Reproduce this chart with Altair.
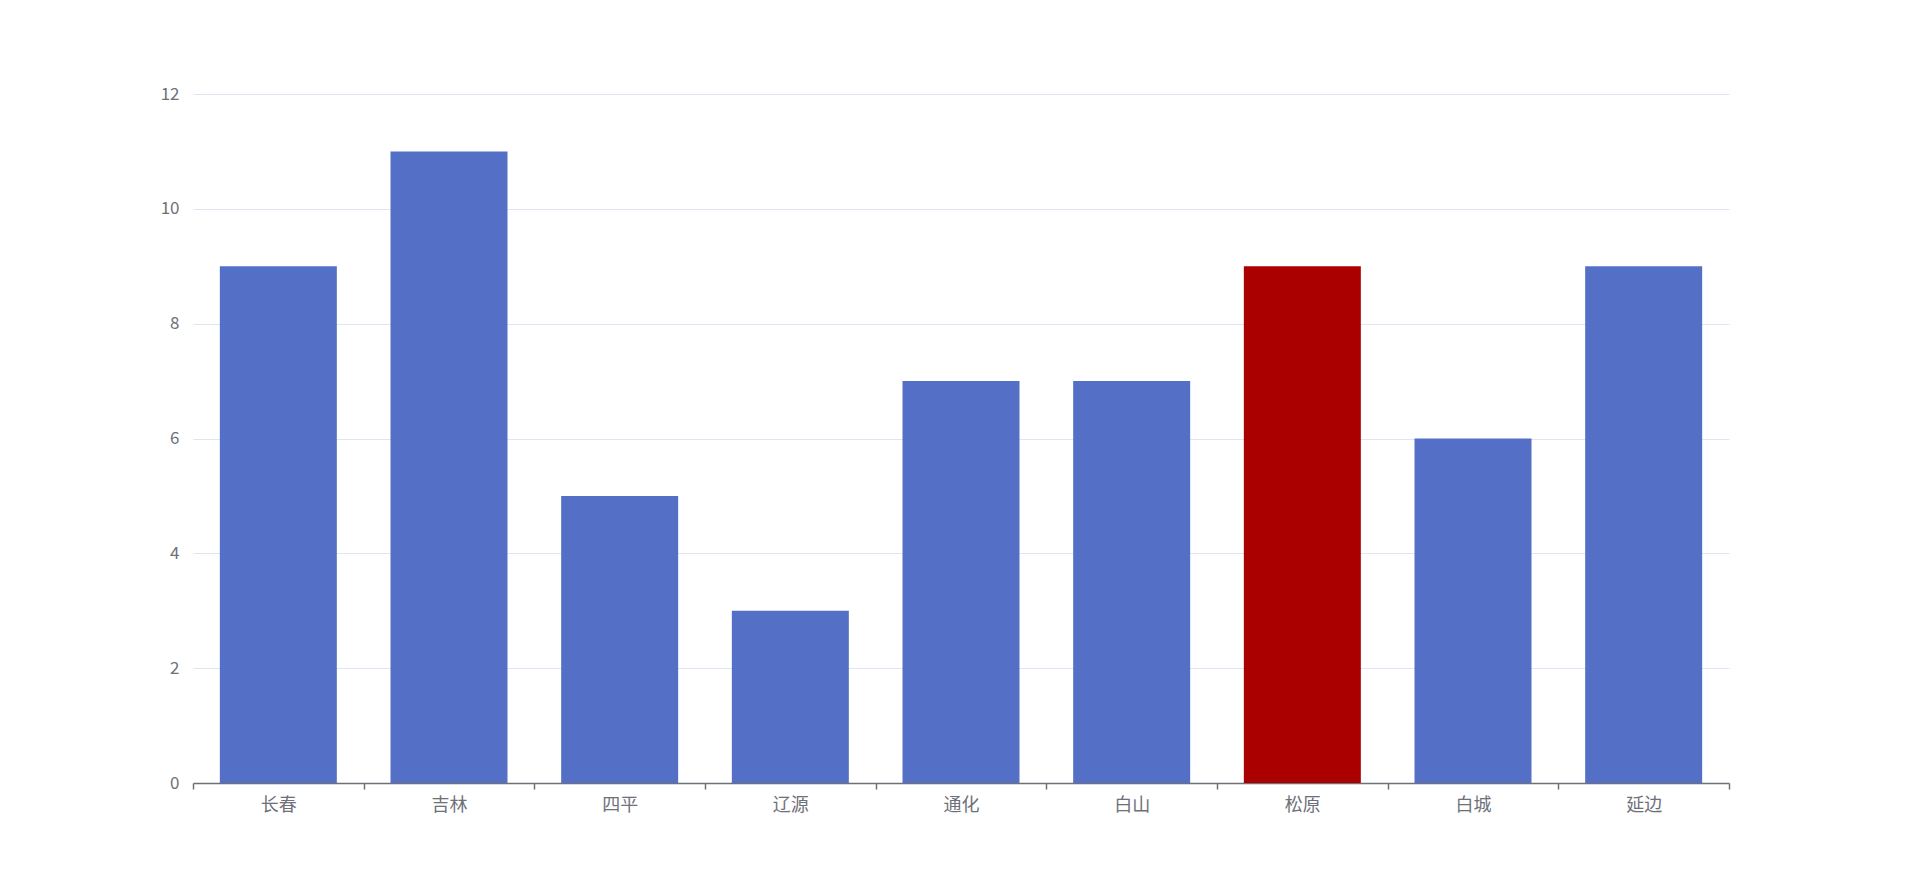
import altair as alt
import pandas as pd

cities = ["长春", "吉林", "四平", "辽源", "通化", "白山", "松原", "白城", "延边"]
values = [9, 11, 5, 3, 7, 7, 9, 6, 9]
highlight = ["松原"]

df = pd.DataFrame({"city": cities, "value": values})
df["hl"] = df["city"].isin(highlight).map({True: "hl", False: "base"})

font = "Noto Sans CJK SC"
bar_frac = 117 / (1536 / 9)

chart = alt.Chart(df).mark_bar(width=alt.RelativeBandSize(bar_frac)).encode(
    x=alt.X("city:N", sort=cities, title=None,
            scale=alt.Scale(paddingInner=0, paddingOuter=0),
            axis=alt.Axis(labelAngle=0, tickBand="extent", tickSize=6, tickWidth=1.5,
                          tickColor="#6E7079", domainColor="#6E7079", domainWidth=1.5,
                          labelColor="#6E7079", labelFontSize=18, labelFont=font,
                          labelPadding=7, grid=False)),
    y=alt.Y("value:Q", title=None,
            scale=alt.Scale(domain=[0, 12], nice=False),
            axis=alt.Axis(values=[0, 2, 4, 6, 8, 10, 12], domain=False, ticks=False,
                          gridColor="#E0E6F1", labelColor="#6E7079",
                          labelFontSize=17, labelFont=font, labelPadding=14)),
    color=alt.Color("hl:N", legend=None,
                    scale=alt.Scale(domain=["base", "hl"], range=["#5470C6", "#AA0000"])),
).properties(
    width=1536, height=689,
    autosize=alt.AutoSizeParams(type="none"),
    padding={"left": 185, "top": 86, "right": 180, "bottom": 90},
).configure_view(stroke=None)

chart.save("out.html", embed_options={"renderer": "svg", "actions": False})
